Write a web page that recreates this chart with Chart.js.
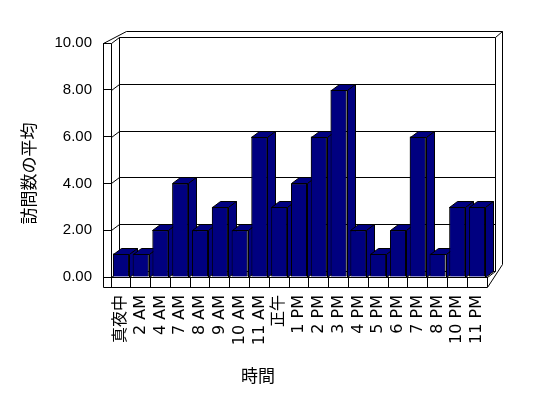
<!DOCTYPE html>
<html>
<head>
<meta charset="utf-8">
<script src="https://cdn.jsdelivr.net/npm/chart.js@4/dist/chart.umd.min.js"></script>
<style>
  html, body { margin: 0; padding: 0; background: #fff; }
  #wrap { width: 548px; height: 398px; }
</style>
</head>
<body>
<div id="wrap"><canvas id="chart" width="548" height="398"></canvas></div>
<script>
// Chart data
const hours = ['真夜中', '2 AM', '4 AM', '7 AM', '8 AM', '9 AM', '10 AM', '11 AM', '正午', '1 PM',
  '2 PM', '3 PM', '4 PM', '5 PM', '6 PM', '7 PM', '8 PM', '10 PM', '11 PM'];
const avgVisits = [1, 1, 2, 4, 2, 3, 2, 6, 3, 4, 6, 8, 2, 1, 2, 6, 1, 3, 3];
const yTicks = [0, 2, 4, 6, 8, 10];
const yTitle = '訪問数の平均';
const xTitle = '時間';

// depth of the plot box and wall thickness
const DX = 8, DY = -6;

function px(v) { return Math.round(v) + 0.5; }

function line(ctx, pts) {
  ctx.beginPath();
  ctx.moveTo(px(pts[0][0]), px(pts[0][1]));
  for (let i = 1; i < pts.length; i++) ctx.lineTo(px(pts[i][0]), px(pts[i][1]));
  ctx.stroke();
}

function poly(ctx, pts) {
  ctx.beginPath();
  ctx.moveTo(px(pts[0][0]), px(pts[0][1]));
  for (let i = 1; i < pts.length; i++) ctx.lineTo(px(pts[i][0]), px(pts[i][1]));
  ctx.closePath();
  ctx.fill();
  ctx.stroke();
}

const box3d = {
  id: 'box3d',
  beforeDatasetsDraw(chart) {
    const ctx = chart.ctx;
    const a = chart.chartArea;
    const y = chart.scales.y;
    const L = a.left, R = a.right, T = a.top, B = a.bottom;
    ctx.save();
    ctx.strokeStyle = '#000';
    ctx.lineWidth = 1;

    // back wall gridlines + diagonals on left wall
    yTicks.forEach(v => {
      const yy = y.getPixelForValue(v);
      line(ctx, [[L, yy], [L + DX, yy + DY], [R + DX, yy + DY]]);
    });
    // back wall edges
    line(ctx, [[L + DX, T + DY], [L + DX, B + DY]]);
    line(ctx, [[R + DX, T + DY], [R + DX, B + DY], [R, B]]);
    line(ctx, [[R + DX, T + DY], [R + 2 * DX - 1, T + 2 * DY]]);
    // outer edges of the walls
    line(ctx, [[L - DX, B + 10], [L - DX, T], [L, T]]);
    line(ctx, [[L - DX, T], [L + 2 * DX - 1, T + 2 * DY], [R + 2 * DX - 1, T + 2 * DY], [R + 2 * DX - 1, B + 2 * DY - 1], [R, B + 10]]);
    line(ctx, [[L, T], [L, B]]);
    // floor front
    line(ctx, [[L, B], [R, B]]);
    line(ctx, [[L - DX, B + 10], [R, B + 10]]);
    ctx.restore();
  },
  afterDatasetsDraw(chart) {
    const ctx = chart.ctx;
    const meta = chart.getDatasetMeta(0);
    ctx.save();
    meta.data.forEach(bar => {
      bar.draw(ctx);
      const p = bar.getProps(['x', 'y', 'base', 'width'], true);
      const x0 = p.x - p.width / 2, x1 = p.x + p.width / 2;
      ctx.fillStyle = '#000080';
      ctx.strokeStyle = '#000';
      ctx.lineWidth = 1;
      poly(ctx, [[x0, p.y], [x1, p.y], [x1 + DX, p.y + DY], [x0 + DX, p.y + DY]]);
      poly(ctx, [[x1, p.y], [x1 + DX, p.y + DY], [x1 + DX, p.base + DY], [x1, p.base]]);
    });
    ctx.restore();
  },
  afterDraw(chart) {
    const ctx = chart.ctx;
    ctx.save();
    ctx.fillStyle = '#000';
    ctx.font = '17px "Noto Sans CJK JP"';
    ctx.textAlign = 'center';
    ctx.textBaseline = 'middle';
    ctx.fillText(xTitle, 258, 376);
    ctx.translate(28.5, 173.5);
    ctx.rotate(-Math.PI / 2);
    ctx.fillText(yTitle, 0, 0);
    ctx.restore();
  }
};

new Chart(document.getElementById('chart'), {
  type: 'bar',
  data: {
    labels: hours,
    datasets: [{
      data: avgVisits,
      backgroundColor: '#000080',
      borderColor: '#000',
      borderWidth: 1,
      barPercentage: 0.9,
      categoryPercentage: 0.9
    }]
  },
  options: {
    responsive: false,
    animation: false,
    layout: { padding: { top: 43, right: 61, left: 0, bottom: 0 } },
    plugins: { legend: { display: false }, tooltip: { enabled: false } },
    scales: {
      x: {
        afterFit: s => { s.height = 121; },
        grid: { offset: true, drawOnChartArea: false, tickLength: 10, color: '#000' },
        border: { display: false },
        ticks: {
          autoSkip: false, maxRotation: 90, minRotation: 90, padding: 8, color: '#000',
          font: { family: '"DejaVu Sans", "Noto Sans CJK JP"', size: 16 }
        }
      },
      y: {
        min: 0, max: 10,
        afterFit: s => { s.width = 111; },
        grid: { drawOnChartArea: false, tickLength: 8, color: '#000' },
        border: { display: false },
        ticks: {
          stepSize: 2, padding: 11, color: '#000',
          font: { family: '"Liberation Sans"', size: 15 },
          callback: v => v.toFixed(2)
        }
      }
    }
  },
  plugins: [box3d]
});
</script>
</body>
</html>
